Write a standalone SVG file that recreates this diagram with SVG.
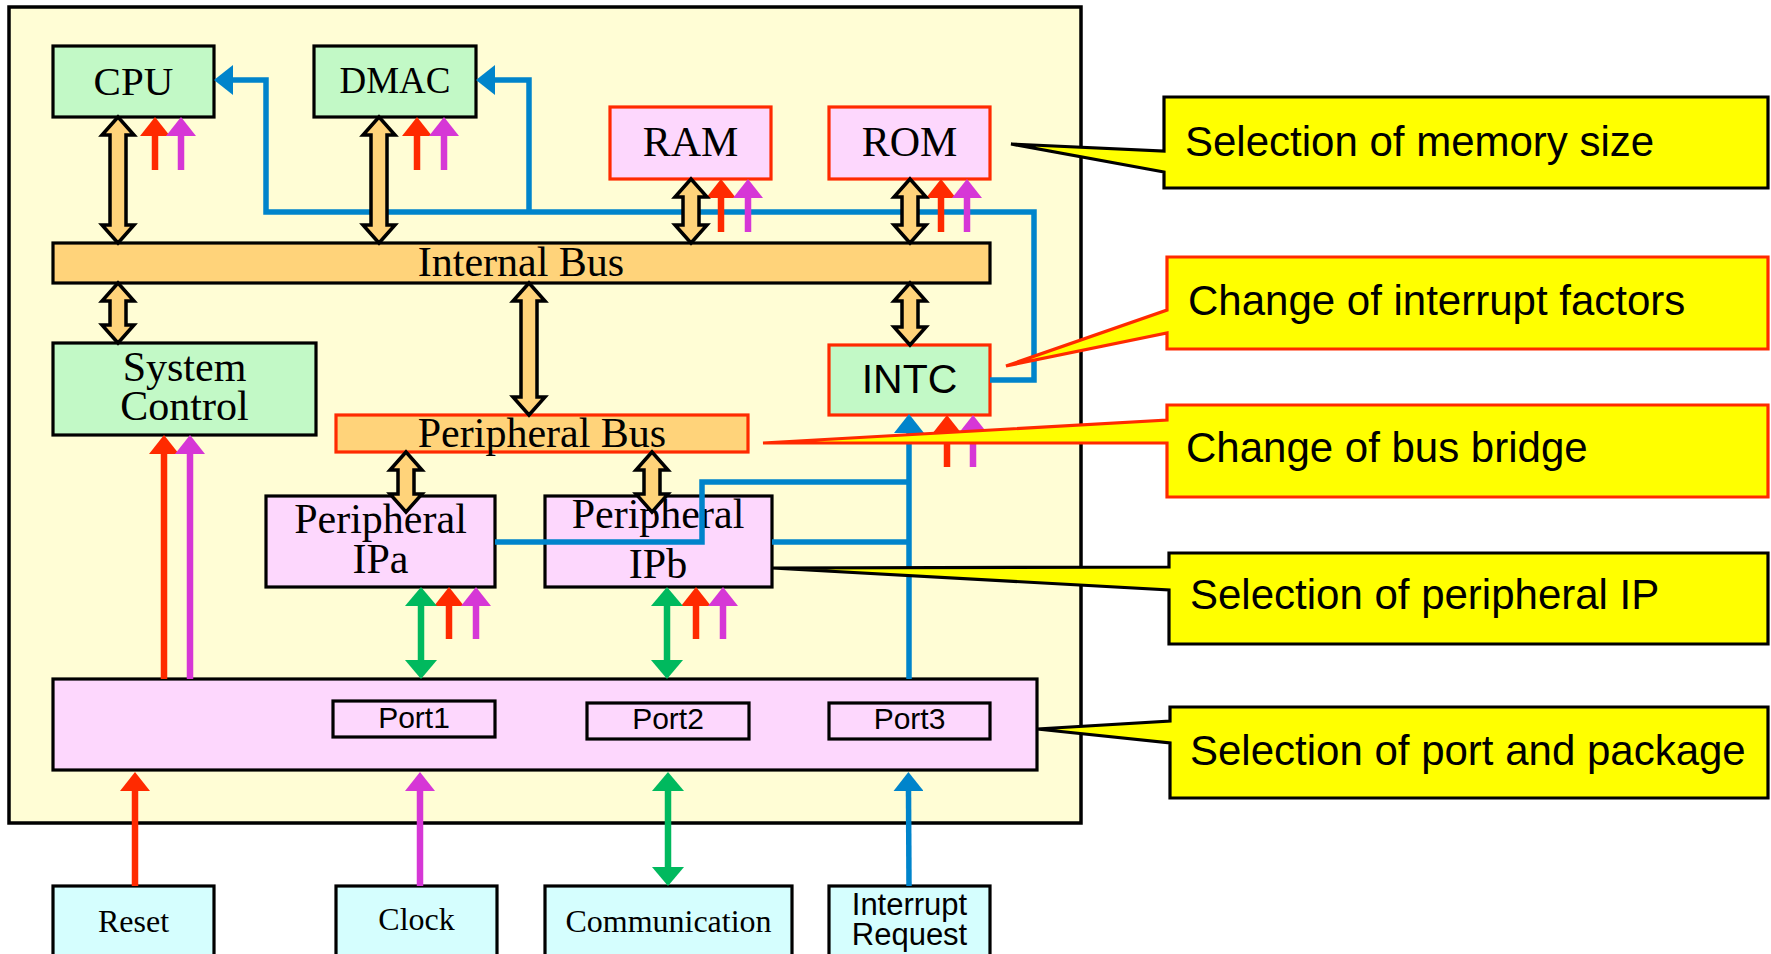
<svg xmlns="http://www.w3.org/2000/svg" width="1771" height="954" viewBox="0 0 1771 954">
<style>
.bx{stroke:#000;stroke-width:3.2}
.rb{stroke:#FF2A00;stroke-width:3.2}
.gr{fill:#C2F9C6}
.pk{fill:#FDD7FD}
.or{fill:#FFD37A}
.cy{fill:#D5FEFE}
.serif{font-family:"Liberation Serif","Times New Roman",serif;fill:#000}
.sans{font-family:"Liberation Sans",Arial,sans-serif;fill:#000}
.da{fill:#FFD37A;stroke:#000;stroke-width:3.5;stroke-linejoin:miter}
.ln{fill:none;stroke-linejoin:miter;stroke-linecap:butt}
.red{stroke:#FF2A00;stroke-width:6.5}
.mag{stroke:#D637D6;stroke-width:6.5}
.blu{stroke:#0084CB;stroke-width:5.5}
.grn{stroke:#00B95E;stroke-width:6.5}
.co{fill:#FFFF00;stroke-width:3.2;stroke-linejoin:miter}
.ct{font-family:"Liberation Sans",Arial,sans-serif;font-size:42px;fill:#000}
</style>
<defs>
<marker id="mr" markerUnits="userSpaceOnUse" viewBox="0 0 19 30" markerWidth="19" markerHeight="30" refX="0" refY="15" orient="auto"><path d="M0,0 L19,15 L0,30 Z" fill="#FF2A00"/></marker>
<marker id="mm" markerUnits="userSpaceOnUse" viewBox="0 0 19 30" markerWidth="19" markerHeight="30" refX="0" refY="15" orient="auto"><path d="M0,0 L19,15 L0,30 Z" fill="#D637D6"/></marker>
<marker id="mb" markerUnits="userSpaceOnUse" viewBox="0 0 19 30" markerWidth="19" markerHeight="30" refX="0" refY="15" orient="auto"><path d="M0,0 L19,15 L0,30 Z" fill="#0084CB"/></marker>
<marker id="mg" markerUnits="userSpaceOnUse" viewBox="0 0 19 32" markerWidth="19" markerHeight="32" refX="0" refY="16" orient="auto-start-reverse"><path d="M0,0 L19,16 L0,32 Z" fill="#00B95E"/></marker>
</defs>
<rect width="1771" height="954" fill="#fff"/>
<rect id="chip" x="9" y="7" width="1072" height="816" fill="#FFFDD5" stroke="#000" stroke-width="3.5"/>

<g id="cpu"><rect class="bx gr" x="53" y="46" width="161" height="71"/><text class="serif" x="133.5" y="95" font-size="41" text-anchor="middle">CPU</text></g>
<g id="dmac"><rect class="bx gr" x="314" y="46" width="162" height="71"/><text class="serif" x="395" y="93" font-size="37" text-anchor="middle">DMAC</text></g>
<g id="ram"><rect class="rb pk" x="610" y="107" width="161" height="72"/><text class="serif" x="690.5" y="156" font-size="42" text-anchor="middle">RAM</text></g>
<g id="rom"><rect class="rb pk" x="829" y="107" width="161" height="72"/><text class="serif" x="909.5" y="156" font-size="42" text-anchor="middle">ROM</text></g>
<g id="internal-bus"><rect class="bx or" x="53" y="243" width="937" height="40"/><text class="serif" x="521" y="276" font-size="42" text-anchor="middle">Internal Bus</text></g>
<g id="system-control"><rect class="bx gr" x="53" y="343" width="263" height="92"/><text class="serif" x="184.5" y="381" font-size="42" text-anchor="middle">System</text><text class="serif" x="184.5" y="420" font-size="42" text-anchor="middle">Control</text></g>
<g id="intc"><rect class="rb gr" x="829" y="345" width="161" height="70"/><text class="sans" x="909.5" y="393" font-size="41" text-anchor="middle">INTC</text></g>
<g id="peripheral-bus"><rect class="rb or" x="336" y="415" width="412" height="37"/><text class="serif" x="542" y="447" font-size="42" text-anchor="middle">Peripheral Bus</text></g>
<g id="peripheral-ipa"><rect class="bx pk" x="266" y="496" width="229" height="91"/><text class="serif" x="380.5" y="533" font-size="42" text-anchor="middle">Peripheral</text><text class="serif" x="380.5" y="573" font-size="42" text-anchor="middle">IPa</text></g>
<g id="peripheral-ipb"><rect class="bx pk" x="545" y="496" width="227" height="91"/><text class="serif" x="658" y="528" font-size="42" text-anchor="middle">Peripheral</text><text class="serif" x="658" y="578" font-size="42" text-anchor="middle">IPb</text></g>
<g id="ports"><rect class="bx pk" x="53" y="679" width="984" height="91"/>
<rect class="bx pk" x="333" y="701" width="162" height="36"/><text class="sans" x="414" y="728" font-size="30" text-anchor="middle">Port1</text>
<rect class="bx pk" x="587" y="703" width="162" height="36"/><text class="sans" x="668" y="729" font-size="30" text-anchor="middle">Port2</text>
<rect class="bx pk" x="829" y="703" width="161" height="36"/><text class="sans" x="909.5" y="729" font-size="30" text-anchor="middle">Port3</text></g>
<g id="reset"><rect class="bx cy" x="53" y="886" width="161" height="90"/><text class="serif" x="133.5" y="932" font-size="32" text-anchor="middle">Reset</text></g>
<g id="clock"><rect class="bx cy" x="336" y="886" width="161" height="90"/><text class="serif" x="416.5" y="930" font-size="32" text-anchor="middle">Clock</text></g>
<g id="communication"><rect class="bx cy" x="545" y="886" width="247" height="90"/><text class="serif" x="668.5" y="932" font-size="32" text-anchor="middle">Communication</text></g>
<g id="interrupt-request"><rect class="bx cy" x="829" y="886" width="161" height="90"/><text class="sans" x="909.5" y="915" font-size="31" text-anchor="middle">Interrupt</text><text class="sans" x="909.5" y="945" font-size="31" text-anchor="middle">Request</text></g>

<g id="connectors">
<polyline class="ln blu" points="990,380 1034,380 1034,212 266,212 266,80 233,80" marker-end="url(#mb)"/>
<polyline class="ln blu" points="529,212 529,80 495,80" marker-end="url(#mb)"/>
<polyline class="ln blu" points="495,542 702,542 702,482 909,482"/>
<line class="ln blu" x1="772" y1="542" x2="909" y2="542"/>
<line class="ln blu" x1="909" y1="679" x2="909" y2="433" marker-end="url(#mb)"/>
<line class="ln blu" x1="909" y1="886" x2="908.5" y2="791" marker-end="url(#mb)"/>

<line class="ln red" x1="155" y1="170" x2="155" y2="136" marker-end="url(#mr)"/>
<line class="ln mag" x1="181" y1="170" x2="181" y2="136" marker-end="url(#mm)"/>
<line class="ln red" x1="417" y1="170" x2="417" y2="136" marker-end="url(#mr)"/>
<line class="ln mag" x1="444" y1="170" x2="444" y2="136" marker-end="url(#mm)"/>
<line class="ln red" x1="721" y1="232" x2="721" y2="198" marker-end="url(#mr)"/>
<line class="ln mag" x1="748" y1="232" x2="748" y2="198" marker-end="url(#mm)"/>
<line class="ln red" x1="941" y1="232" x2="941" y2="198" marker-end="url(#mr)"/>
<line class="ln mag" x1="967" y1="232" x2="967" y2="198" marker-end="url(#mm)"/>
<line class="ln red" x1="947" y1="467" x2="947" y2="434" marker-end="url(#mr)"/>
<line class="ln mag" x1="973" y1="467" x2="973" y2="434" marker-end="url(#mm)"/>
<line class="ln red" x1="449" y1="639" x2="449" y2="606" marker-end="url(#mr)"/>
<line class="ln mag" x1="476" y1="639" x2="476" y2="606" marker-end="url(#mm)"/>
<line class="ln red" x1="696" y1="639" x2="696" y2="606" marker-end="url(#mr)"/>
<line class="ln mag" x1="723" y1="639" x2="723" y2="606" marker-end="url(#mm)"/>
<line class="ln red" x1="164" y1="679" x2="164" y2="454" marker-end="url(#mr)"/>
<line class="ln mag" x1="190" y1="679" x2="190" y2="454" marker-end="url(#mm)"/>
<line class="ln red" x1="135" y1="886" x2="135" y2="791" marker-end="url(#mr)"/>
<line class="ln mag" x1="420" y1="886" x2="420" y2="791" marker-end="url(#mm)"/>

<line class="ln grn" x1="421" y1="606" x2="421" y2="660" marker-start="url(#mg)" marker-end="url(#mg)"/>
<line class="ln grn" x1="667" y1="606" x2="667" y2="660" marker-start="url(#mg)" marker-end="url(#mg)"/>
<line class="ln grn" x1="668" y1="791" x2="668" y2="867" marker-start="url(#mg)" marker-end="url(#mg)"/>

<polygon class="da" points="118,117 134,135 126,135 126,225 134,225 118,243 102,225 110,225 110,135 102,135"/>
<polygon class="da" points="379,117 395,135 387,135 387,225 395,225 379,243 363,225 371,225 371,135 363,135"/>
<polygon class="da" points="691,179 707,197 699,197 699,225 707,225 691,243 675,225 683,225 683,197 675,197"/>
<polygon class="da" points="910,179 926,197 918,197 918,225 926,225 910,243 894,225 902,225 902,197 894,197"/>
<polygon class="da" points="118,283 134,301 126,301 126,325 134,325 118,343 102,325 110,325 110,301 102,301"/>
<polygon class="da" points="529,283 545,301 537,301 537,397 545,397 529,415 513,397 521,397 521,301 513,301"/>
<polygon class="da" points="910,283 926,301 918,301 918,327 926,327 910,345 894,327 902,327 902,301 894,301"/>
<polygon class="da" points="406,452 422,470 414,470 414,494 422,494 406,512 390,494 398,494 398,470 390,470"/>
<polygon class="da" points="652,452 668,470 660,470 660,494 668,494 652,512 636,494 644,494 644,470 636,470"/>
</g>

<g id="callout-memory"><path class="co" stroke="#000" d="M1164,97 H1768 V188 H1164 V172 L1011,144 L1164,151 Z"/><text class="ct" x="1185" y="156">Selection of memory size</text></g>
<g id="callout-interrupt"><path class="co" stroke="#FF2A00" d="M1167,257 H1768 V349 H1167 V333 L1006,366 L1167,310 Z"/><text class="ct" x="1188" y="315">Change of interrupt factors</text></g>
<g id="callout-bus-bridge"><path class="co" stroke="#FF2A00" d="M1167,405 H1768 V497 H1167 V443 L763,443 L1167,420 Z"/><text class="ct" x="1186" y="462">Change of bus bridge</text></g>
<g id="callout-peripheral"><path class="co" stroke="#000" d="M1169,553 H1768 V644 H1169 V590 L772,568 L1169,567 Z"/><text class="ct" x="1190" y="609">Selection of peripheral IP</text></g>
<g id="callout-port"><path class="co" stroke="#000" d="M1170,707 H1768 V798 H1170 V743 L1037,729 L1170,721 Z"/><text class="ct" x="1190" y="765">Selection of port and package</text></g>
</svg>
